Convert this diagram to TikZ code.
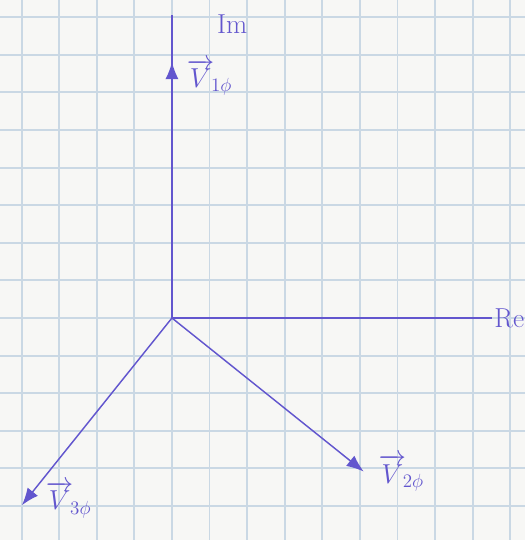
\documentclass[tikz,border=0pt]{standalone}
\usepackage{amsmath}
\usepackage{xcolor}
\usetikzlibrary{arrows.meta, positioning}
\definecolor{ink}{RGB}{98,86,206}
\definecolor{gridblue}{RGB}{202,216,228}
\definecolor{paper}{RGB}{247,247,245}

\begin{document}
\begin{tikzpicture}[x=1cm, y=1.016cm,
  phasor/.style={draw=ink, line width=1.1pt, -{Latex[length=13pt,width=10pt]}},
  axisline/.style={draw=ink, line width=1pt},
  lbl/.style={text=ink, font=\huge, inner sep=1pt}]
  \fill[paper] (-4.574,-5.812) rectangle (9.388,8.325);
  \useasboundingbox (-4.574,-5.812) rectangle (9.388,8.325);
  \draw[gridblue, line width=1.4pt] (-4.574,-5.812) grid (9.388,8.325);

  % axes
  \coordinate (O) at (0,0);
  \coordinate (imtop) at (0,7.93);
  \coordinate (reend) at (8.5,0);
  \draw[axisline] (O) -- (imtop);
  \draw[axisline] (O) -- (reend);
  \node[lbl] (im) at (1.6,7.68) {Im};
  \node[lbl, right=1pt of reend] (re) {Re};

  % phasors
  \coordinate (v1) at (0,6.7);
  \coordinate (v2) at (5.1,-4.02);
  \coordinate (v3) at (-3.99,-4.9);
  \draw[phasor] (O) -- (v1);
  \draw[phasor] (O) -- (v2);
  \draw[phasor] (O) -- (v3);
  \node[lbl] (v1lbl) at (1.0,6.3) {$\overrightarrow{V}_{\!1\phi}$};
  \node[lbl] (v2lbl) at (6.1,-4.05) {$\overrightarrow{V}_{\!2\phi}$};
  \node[lbl] (v3lbl) at (-2.75,-4.75) {$\overrightarrow{V}_{\!3\phi}$};
\end{tikzpicture}
\end{document}
